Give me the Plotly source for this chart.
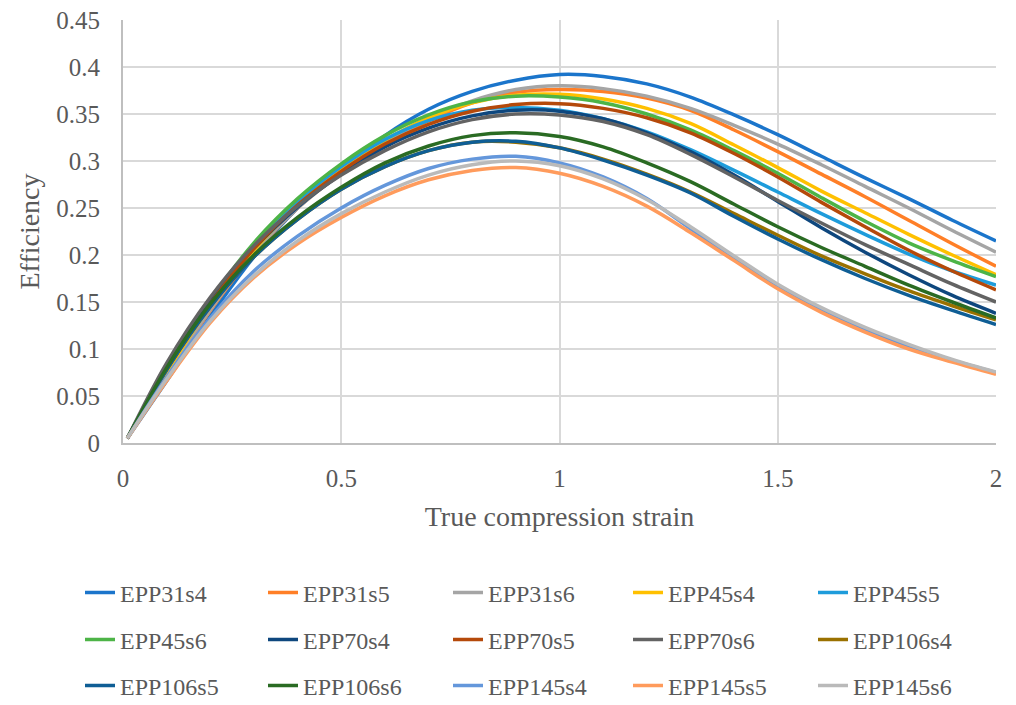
import plotly.graph_objects as go

strain = [0.01, 0.1, 0.2, 0.3, 0.4, 0.5, 0.6, 0.7, 0.8, 0.9, 1.0,
          1.1, 1.2, 1.3, 1.4, 1.5, 1.6, 1.7, 1.8, 1.9, 2.0]

series_names = ["EPP31s4", "EPP31s5", "EPP31s6", "EPP45s4", "EPP45s5",
                "EPP45s6", "EPP70s4", "EPP70s5", "EPP70s6", "EPP106s4",
                "EPP106s5", "EPP106s6", "EPP145s4", "EPP145s5", "EPP145s6"]

EPP31s4 = [0.005, 0.066, 0.135, 0.198, 0.250, 0.290, 0.327, 0.355, 0.374, 0.386, 0.392,
           0.390, 0.382, 0.368, 0.349, 0.328, 0.305, 0.282, 0.260, 0.237, 0.215]
EPP31s5 = [0.005, 0.072, 0.141, 0.201, 0.250, 0.287, 0.318, 0.343, 0.362, 0.373, 0.376,
           0.374, 0.367, 0.354, 0.333, 0.310, 0.286, 0.262, 0.237, 0.212, 0.188]
EPP31s6 = [0.005, 0.073, 0.142, 0.202, 0.250, 0.287, 0.319, 0.345, 0.364, 0.376, 0.380,
           0.377, 0.369, 0.356, 0.338, 0.318, 0.296, 0.273, 0.250, 0.226, 0.203]
EPP45s4 = [0.005, 0.075, 0.146, 0.205, 0.253, 0.291, 0.322, 0.346, 0.362, 0.370, 0.371,
           0.366, 0.356, 0.340, 0.317, 0.293, 0.268, 0.245, 0.222, 0.200, 0.179]
EPP45s5 = [0.005, 0.078, 0.150, 0.210, 0.257, 0.294, 0.323, 0.343, 0.354, 0.357, 0.354,
           0.345, 0.331, 0.312, 0.290, 0.267, 0.244, 0.222, 0.201, 0.183, 0.168]
EPP45s6 = [0.005, 0.080, 0.152, 0.213, 0.260, 0.297, 0.327, 0.349, 0.363, 0.369, 0.368,
           0.362, 0.350, 0.333, 0.311, 0.287, 0.261, 0.236, 0.213, 0.194, 0.177]
EPP70s4 = [0.005, 0.080, 0.150, 0.207, 0.251, 0.286, 0.315, 0.335, 0.348, 0.354, 0.353,
           0.345, 0.330, 0.310, 0.285, 0.257, 0.229, 0.203, 0.179, 0.157, 0.138]
EPP70s5 = [0.005, 0.078, 0.148, 0.207, 0.253, 0.289, 0.318, 0.339, 0.353, 0.360, 0.361,
           0.356, 0.346, 0.330, 0.308, 0.283, 0.256, 0.230, 0.205, 0.183, 0.163]
EPP70s6 = [0.005, 0.085, 0.155, 0.210, 0.252, 0.285, 0.311, 0.331, 0.344, 0.350, 0.349,
           0.342, 0.328, 0.307, 0.283, 0.258, 0.234, 0.211, 0.190, 0.169, 0.150]
EPP106s4 = [0.005, 0.078, 0.145, 0.198, 0.238, 0.270, 0.294, 0.311, 0.320, 0.320, 0.314,
            0.302, 0.286, 0.267, 0.244, 0.221, 0.199, 0.180, 0.162, 0.146, 0.131]
EPP106s5 = [0.005, 0.078, 0.145, 0.198, 0.238, 0.270, 0.294, 0.311, 0.320, 0.321, 0.314,
            0.301, 0.285, 0.266, 0.241, 0.217, 0.195, 0.175, 0.157, 0.141, 0.126]
EPP106s6 = [0.005, 0.080, 0.148, 0.200, 0.240, 0.272, 0.298, 0.316, 0.327, 0.330, 0.326,
            0.315, 0.298, 0.278, 0.254, 0.230, 0.208, 0.188, 0.168, 0.150, 0.133]
EPP145s4 = [0.005, 0.070, 0.133, 0.183, 0.220, 0.250, 0.274, 0.292, 0.302, 0.305, 0.298,
            0.283, 0.260, 0.228, 0.197, 0.167, 0.142, 0.121, 0.103, 0.088, 0.075]
EPP145s5 = [0.005, 0.066, 0.128, 0.176, 0.212, 0.240, 0.263, 0.280, 0.290, 0.293, 0.287,
            0.273, 0.252, 0.224, 0.194, 0.164, 0.139, 0.118, 0.100, 0.086, 0.073]
EPP145s6 = [0.005, 0.068, 0.130, 0.178, 0.215, 0.244, 0.267, 0.285, 0.296, 0.300, 0.295,
            0.281, 0.259, 0.230, 0.199, 0.169, 0.144, 0.123, 0.105, 0.089, 0.0755]

series_values = [EPP31s4, EPP31s5, EPP31s6, EPP45s4, EPP45s5,
                 EPP45s6, EPP70s4, EPP70s5, EPP70s6, EPP106s4,
                 EPP106s5, EPP106s6, EPP145s4, EPP145s5, EPP145s6]

colors = ["#1B75CB", "#FF7F27", "#A5A5A5", "#FFC000", "#1E9CDB",
          "#4DB447", "#0E477E", "#B5490A", "#636363", "#9A7100",
          "#0F5E95", "#2A6B23", "#6497DB", "#FF9B5C", "#BABABA"]

x_tickvals = [0, 0.5, 1, 1.5, 2]
x_ticktext = ["0", "0.5", "1", "1.5", "2"]
y_tickvals = [0, 0.05, 0.1, 0.15, 0.2, 0.25, 0.3, 0.35, 0.4, 0.45]
y_ticktext = ["0", "0.05", "0.1", "0.15", "0.2", "0.25", "0.3", "0.35", "0.4", "0.45"]

FONT = "Liberation Serif, DejaVu Serif, serif"
TXT = "#595959"

PL, PR, PT, PB = 123, 996, 20, 443
paper_w = PR - PL
paper_h = PB - PT


def px_to_paper_x(px):
    return (px - PL) / paper_w


def px_to_paper_y(py):
    return (PB - py) / paper_h


# legend grid (text start x, row centre y) in pixels
col_text_x = [120, 303, 488, 668, 853]
row_y = [593, 640, 686]

fig = go.Figure()
legend_layouts = {}
for i, (name, vals, col) in enumerate(zip(series_names, series_values, colors)):
    lid = "legend" if i == 0 else f"legend{i + 1}"
    fig.add_trace(go.Scatter(
        x=strain, y=vals, name=name, mode="lines",
        line=dict(color=col, width=3.5, shape="spline", smoothing=1.0),
        legend=lid,
    ))
    r, c = divmod(i, 5)
    legend_layouts[lid] = dict(
        orientation="h", font=dict(family=FONT, size=24, color=TXT),
        xanchor="left", yanchor="middle", bgcolor="rgba(0,0,0,0)",
        x=px_to_paper_x(col_text_x[c] - 40), y=px_to_paper_y(row_y[r]),
        itemwidth=30,
    )

fig.update_layout(
    width=1016, height=705,
    margin=dict(l=PL, r=1016 - PR, t=PT, b=705 - PB, autoexpand=False),
    plot_bgcolor="white", paper_bgcolor="white",
    font=dict(family=FONT, size=24, color=TXT),
    showlegend=True,
    xaxis=dict(
        range=[0, 2], tickvals=x_tickvals, ticktext=x_ticktext,
        showgrid=True, gridcolor="#D9D9D9", gridwidth=2,
        showline=True, linecolor="#BFBFBF", linewidth=2,
        ticks="", ticklabelstandoff=12, zeroline=False,
        tickfont=dict(family=FONT, size=25, color=TXT),
        title=dict(text="True compression strain", standoff=15,
                   font=dict(family=FONT, size=28, color=TXT)),
    ),
    yaxis=dict(
        range=[0, 0.45], tickvals=y_tickvals, ticktext=y_ticktext,
        showgrid=True, gridcolor="#D9D9D9", gridwidth=2,
        showline=True, linecolor="#BFBFBF", linewidth=2,
        ticks="", ticklabelstandoff=16, zeroline=False,
        tickfont=dict(family=FONT, size=25, color=TXT),
        title=dict(text="Efficiency", standoff=8,
                   font=dict(family=FONT, size=28, color=TXT)),
    ),
    **legend_layouts,
)

fig.write_html(
    "out.html",
    config={"displayModeBar": False},
    post_script="document.body.style.margin='0';document.body.style.padding='0';",
)
